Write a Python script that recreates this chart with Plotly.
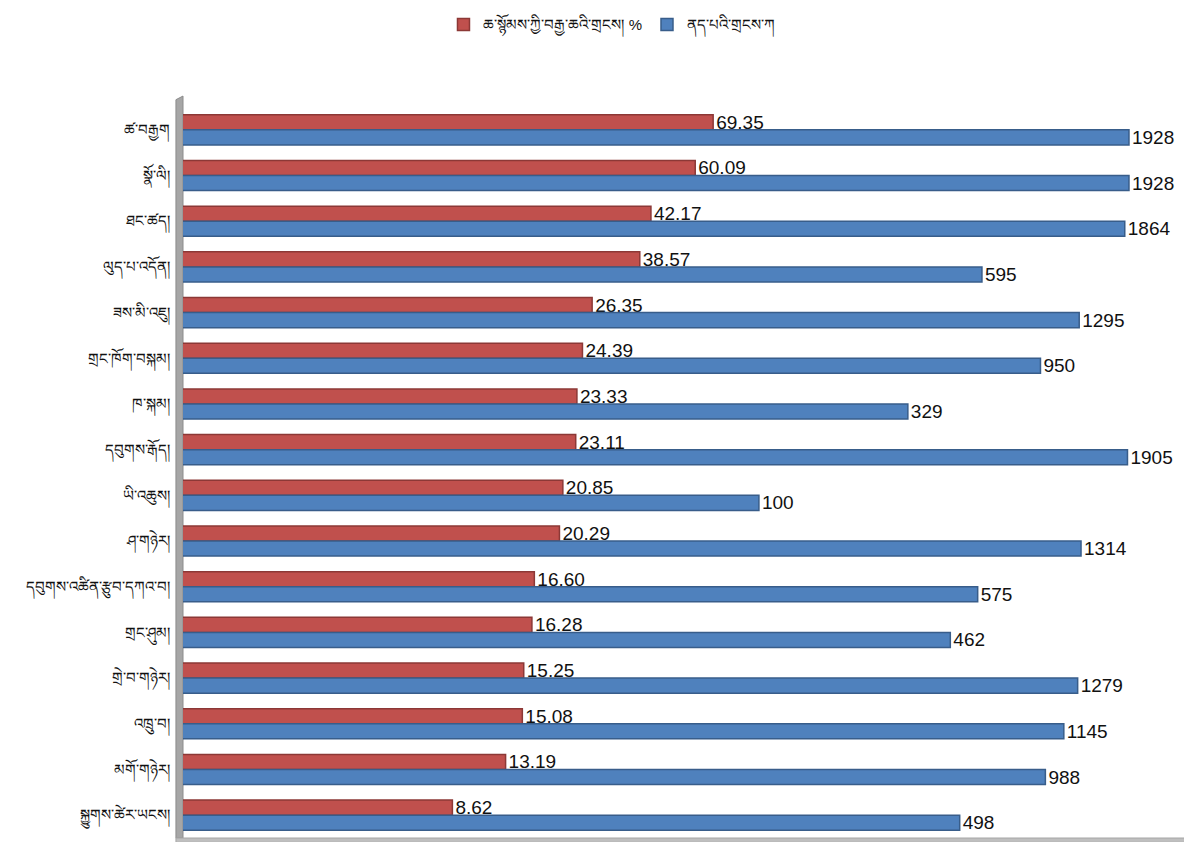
import plotly.graph_objects as go

categories = [
    "ཚ་བརྒྱག", "སྣོ་ལི།", "ཐང་ཚད།", "ལུད་པ་འདོན།", "ཟས་མི་འཇུ།",
    "གྲང་ཁོག་བསྐམ།", "ཁ་སྐམ།", "དབུགས་རྒོད།", "ཡི་འཆུས།", "ཤ་གཉེར།",
    "དབུགས་འཚིན་རྩུབ་དཀའ་བ།", "གྲང་ཤུམ།", "གྲེ་བ་གཉེར།", "འཁྲུ་བ།",
    "མགོ་གཉེར།", "སྐྱུགས་ཚེར་ཡངས།",
]
percent_values = [69.35, 60.09, 42.17, 38.57, 26.35, 24.39, 23.33, 23.11,
                  20.85, 20.29, 16.60, 16.28, 15.25, 15.08, 13.19, 8.62]
percent_labels = ["69.35", "60.09", "42.17", "38.57", "26.35", "24.39", "23.33", "23.11",
                  "20.85", "20.29", "16.60", "16.28", "15.25", "15.08", "13.19", "8.62"]
patient_counts = [1928, 1928, 1864, 595, 1295, 950, 329, 1905,
                  100, 1314, 575, 462, 1279, 1145, 988, 498]
series_names = ["ཆ་སྙོམས་ཀྱི་བརྒྱ་ཆའི་གྲངས། %", "ནད་པའི་གྲངས་ཀ"]

W, H = 1184, 834
label_font = dict(family="Liberation Sans Narrow, Arial Narrow, Liberation Sans, sans-serif",
                  size=19, color="#111111")

fig = go.Figure()
fig.add_trace(go.Bar(
    y=categories, x=percent_values, orientation="h", name=series_names[0],
    marker=dict(color="#C0504D", line=dict(color="#8C3836", width=1.5)),
    text=percent_labels, textposition="outside", textfont=label_font,
    constraintext="none", cliponaxis=False,
))
fig.add_trace(go.Bar(
    y=categories, x=patient_counts, orientation="h", name=series_names[1],
    marker=dict(color="#4F81BD", line=dict(color="#385D8A", width=1.5)),
    text=[str(v) for v in patient_counts], textposition="outside", textfont=label_font,
    constraintext="none", cliponaxis=False,
))

# left wall and floor (3D chart look)
fig.add_shape(type="path", xref="paper", yref="paper",
              path="M -0.007 0 L -0.007 1.01 L 0 1.015 L 0 0 Z",
              fillcolor="#A6A6A6", line=dict(color="#8C8C8C", width=1), layer="below")
fig.add_shape(type="rect", xref="paper", yref="paper",
              x0=-0.007, x1=1, y0=-0.006, y1=0.0,
              fillcolor="#BFBFBF", line=dict(color="#A6A6A6", width=1), layer="below")

fig.update_layout(
    width=W, height=H,
    margin=dict(l=175, r=2, t=99, b=4, autoexpand=False),
    paper_bgcolor="white", plot_bgcolor="white",
    barmode="group", bargap=0.34, bargroupgap=0.0,
    showlegend=True,
    legend=dict(orientation="h", x=0.426, xanchor="center", y=1.09, yanchor="bottom",
                font=dict(family="Liberation Sans, sans-serif", size=15, color="#111111"),
                traceorder="normal"),
    xaxis=dict(type="log", range=[0, 3.497], showgrid=False, showticklabels=False,
               zeroline=False, showline=False, ticks="", automargin=False),
    yaxis=dict(autorange="reversed", showgrid=False, showline=False, ticks="",
               automargin=False,
               tickfont=dict(family="Liberation Sans, sans-serif", size=15, color="#111111"),
               ticklabelstandoff=12),
)

fig.write_html("out.html")
